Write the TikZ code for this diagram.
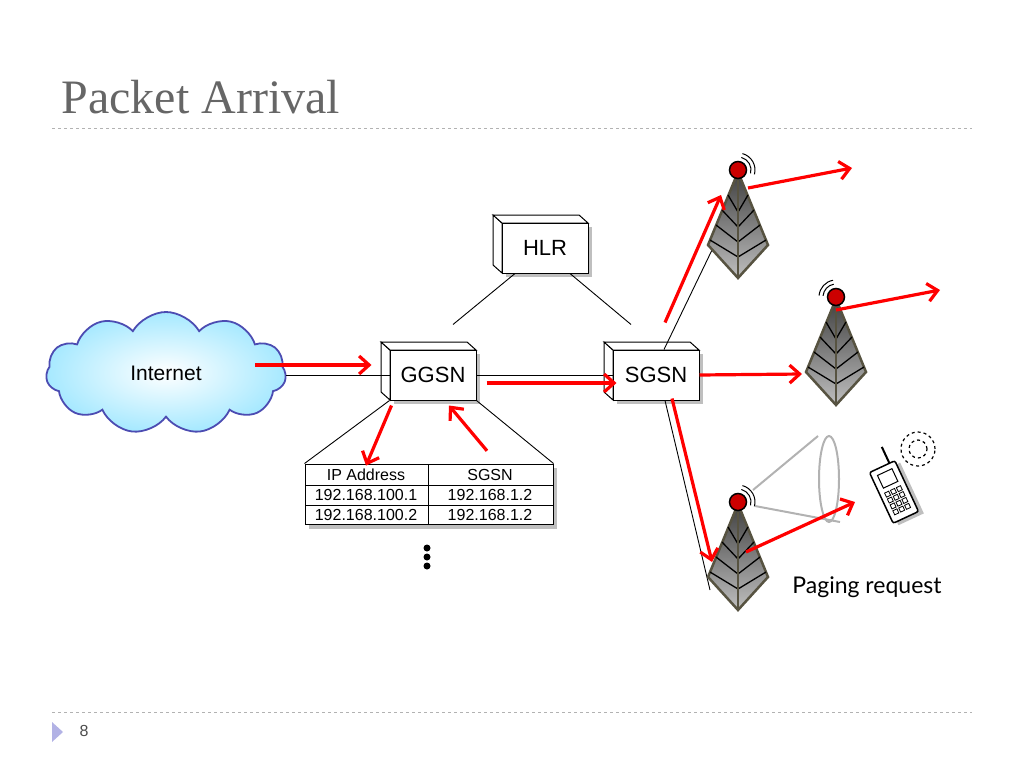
\documentclass[tikz,border=0pt]{standalone}
\usepackage{fontspec}
\setmainfont{Liberation Serif}
\newfontfamily\arialfont{Liberation Sans}
\newfontfamily\gillfont{Lato}
\usetikzlibrary{shapes.symbols,arrows.meta,calc}
\tikzstyle{box} = [rectangle, draw, fill=white, line width=1pt, font=\arialfont\fontsize{22}{22}\selectfont, minimum width=86pt, minimum height=50pt]
\tikzstyle{face} = [draw, fill=white, line width=1pt]
\tikzstyle{link} = [line width=0.9pt]
\tikzstyle{flow} = [draw=red, line width=3.2pt, -{Straight Barb[length=10pt,width=18pt]}]
\tikzstyle{cell} = [font=\arialfont\fontsize{16}{16}\selectfont]
\newcommand{\netbox}[4]{% name, x, y, text
  \fill[black!25] (#2-39,#3-21) rectangle (#2+47,#3+29);
  \draw[face] (#2-43,#3-25) -- (#2-52,#3-33) -- (#2-52,#3+17) -- (#2-43,#3+25) -- cycle;
  \draw[face] (#2-43,#3-25) -- (#2-52,#3-33) -- (#2+34,#3-33) -- (#2+43,#3-25) -- cycle;
  \node[box] (#1) at (#2,#3) {#4};
}
\newcommand{\tower}[3]{% name, x, y of top dot
  \begin{scope}[shift={(#2,#3)}]
    \shade[top color=gray!50!black, bottom color=gray!50, draw=black!60!yellow!60!black, line width=2.5pt] (0,2) -- (-30,75) -- (0,108) -- (30,75) -- cycle;
    \foreach \h in {25,40,55,70}
      \draw[line width=1.3pt] ({-0.4*\h},\h) -- (0,\h+17) -- ({0.4*\h},\h);
    \draw[line width=1.5pt, black!60!yellow!60!black] (0,10) -- (0,106);
    \node[circle, fill=red!80!black, draw=black, line width=1.5pt, minimum size=17pt, inner sep=0pt] (#1) at (0,0) {};
  \end{scope}
}
\begin{document}
\begin{tikzpicture}[x=1pt,y=-1pt]
  \useasboundingbox (0,0) rectangle (1024,768);
  % title and frame
  \node[anchor=west, text=black!60, font=\fontsize{48}{48}\selectfont] (title) at (58,97) {Packet Arrival};
  \draw[gray!60, dashed] (52,128) -- (972,128);
  \draw[gray!60, dashed] (52,712) -- (972,712);
  \fill[gray!50!blue!40] (52,722) -- (63,732) -- (52,742) -- cycle;
  \node[font=\arialfont\fontsize{16}{16}\selectfont, text=black!70] (page) at (84,731) {8};
  % cloud and network elements
  \node[cloud, cloud puffs=11, cloud puff arc=120, aspect=2, draw=gray!60!blue, line width=1.8pt, inner color=white, outer color=blue!25!cyan!35, minimum width=240pt, minimum height=122pt, font=\arialfont\fontsize{21}{21}\selectfont] (internet) at (166,373) {Internet};
  \netbox{ggsn}{433}{375}{GGSN}
  \netbox{hlr}{545}{248}{HLR}
  \netbox{sgsn}{656}{375}{SGSN}
  % table
  \fill[black!25] (309,468) rectangle (557,529);
  \node[draw, fill=white, line width=1pt, minimum width=248pt, minimum height=60pt] (table) at (429,494) {};
  \draw[line width=1pt] (305,485) -- (553,485) (305,505) -- (553,505) (428,464) -- (428,524);
  \node[cell] (h1) at (366,475) {IP Address};
  \node[cell] (h2) at (490,475) {SGSN};
  \node[cell] (r1a) at (366,495) {192.168.100.1};
  \node[cell] (r1b) at (490,495) {192.168.1.2};
  \node[cell] (r2a) at (366,515) {192.168.100.2};
  \node[cell] (r2b) at (490,515) {192.168.1.2};
  \foreach \y in {548,557,566} \fill (427,\y) circle (3.5pt);
  % links
  \draw[link] (internet.east |- 0,375) -- (ggsn.west |- 0,375);
  \draw[link] (ggsn.east) -- (sgsn.west);
  \draw[link] ($(ggsn.north)+(20,-25)$) -- ($(hlr.south)+(-30,0)$);
  \draw[link] ($(hlr.south)+(25,0)$) -- ($(sgsn.north)+(-25,-25)$);
  \draw[link] (ggsn.south west) -- (table.north west);
  \draw[link] (ggsn.south east) -- (table.north east);
  % towers and phone
  \draw[link] ($(sgsn.north)+(8,0)$) -- (712,250);
  \draw[link] ($(sgsn.south)+(9,0)$) -- (710,590);
  \tower{t1}{738}{170}
  \tower{t2}{836}{297}
  \tower{t3}{738}{502}
  \foreach \t in {t1,t3} {
    \draw[line width=1pt] (\t) ++(-75:13) arc (-75:15:13);
    \draw[line width=1pt] (\t) ++(-75:17) arc (-75:15:17);
  }
  \draw[line width=1pt] (t2) ++(-100:13) arc (-100:-175:13);
  \draw[line width=1pt] (t2) ++(-100:17) arc (-100:-175:17);
  \draw[gray!60, line width=2pt] (753,490) -- (818,436) (755,506) -- (840,522);
  \draw[gray!60, line width=2pt] (829,479) ellipse (10pt and 43pt);
  \begin{scope}[shift={(894,492)}, rotate=25]
    \fill[black!25] (-10,-24) rectangle (18,32);
    \draw[fill=white, line width=1.5pt, rounded corners=2pt] (-14,-28) rectangle (14,28);
    \draw[line width=1pt] (-8,-22) rectangle (8,-8);
    \foreach \i in {0,1,2} \foreach \j in {0,1,2,3}
      \draw[line width=0.8pt] ({-9+\i*6.5},{-3+\j*6.5}) rectangle ++(4.5,4.5);
    \draw[line width=2pt] (8,-28) -- (8,-46);
  \end{scope}
  \draw[dashed, line width=1.2pt] (918,449) circle (9pt) (918,449) circle (17pt);
  \node[font=\gillfont\fontsize{23}{23}\selectfont] (paging) at (867,587) {Paging request};
  % packet flow
  \draw[flow] (255,365) -- ($(ggsn.west)+(-18,-10)$);
  \draw[flow] ($(ggsn.east)+(10,8)$) -- ($(sgsn.west)+(4,8)$);
  \draw[flow] ($(ggsn.south west)+(2,5)$) -- (h1.north);
  \draw[flow] ($(h2.north)+(-3,-15)$) -- ($(ggsn.south)+(16,5)$);
  \draw[flow] ($(sgsn.north)+(9,-27)$) -- ($(t1)+(-17,25)$);
  \draw[flow] (sgsn.east) -- ($(t2)+(-34,77)$);
  \draw[flow] ($(sgsn.south)+(16,-2)$) -- ($(t3)+(-26,60)$);
  \draw[flow] ($(t1)+(10,18)$) -- (852,168);
  \draw[flow] ($(t2)+(0,13)$) -- (940,290);
  \draw[flow] ($(t3)+(8,50)$) -- (855,502);
\end{tikzpicture}
\end{document}
